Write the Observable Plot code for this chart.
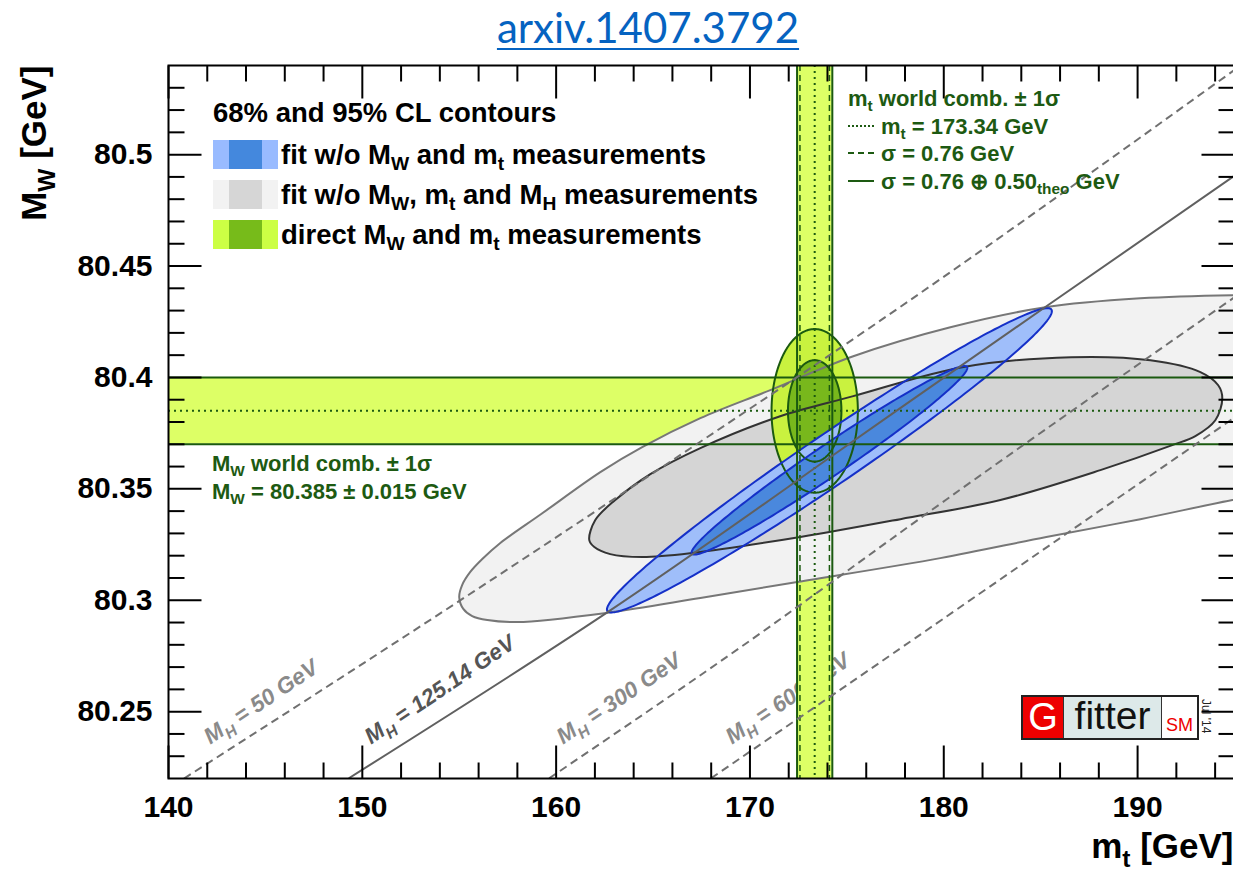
<!DOCTYPE html>
<html>
<head>
<meta charset="utf-8">
<script src="https://cdn.jsdelivr.net/npm/d3@7"></script>
<script src="https://cdn.jsdelivr.net/npm/@observablehq/plot@0.6"></script>
<style>
  html, body { margin: 0; padding: 0; background: #fff; overflow: hidden; }
  #wrap { position: relative; width: 1233px; height: 873px; overflow: hidden; }
  #chart { position: absolute; left: 0; top: 0; width: 1236px; }
  .abs { position: absolute; white-space: nowrap; }
  .helv { font-family: 'Liberation Sans', Arial, Helvetica, sans-serif; font-weight: bold; }
  sub { font-size: 70%; vertical-align: -0.3em; line-height: 0; }
  #title { left: 648px; top: 2px; transform: translateX(-50%); font-family: Lato, 'Open Sans', sans-serif;
           font-size: 42px; line-height: 50px; color: #0563C1; text-decoration: underline; text-decoration-thickness: 2px; text-underline-offset: 5px; }
  .sw { position: absolute; width: 65px; height: 29px; }
  .note { color: #1d5a12; font-size: 22px; line-height: 22px; }
  .sample { display: inline-block; width: 26px; vertical-align: 0.3em; margin-right: 7px; border-top: 2px solid #1d5a12; }
  #logo { left: 1021px; top: 695px; width: 178px; height: 45px; box-sizing: border-box; border: 2px solid #222; display: flex;
          font-family: 'Liberation Sans', Arial, Helvetica, sans-serif; }
  #logo div { box-sizing: border-box; height: 100%; position: relative; }
</style>
</head>
<body>
<div id="wrap">
  <div id="chart"></div>
  <div id="title" class="abs">arxiv.1407.3792</div>
  <div id="overlay"></div>
</div>
<script>
// ---------------- axis ticks ----------------
const mtMajorTicks = [140, 150, 160, 170, 180, 190];
const mtMinorTicks = [142, 144, 146, 148, 152, 154, 156, 158, 162, 164, 166, 168,
                      172, 174, 176, 178, 182, 184, 186, 188, 192, 194];
const mwMajorTicks = [80.25, 80.3, 80.35, 80.4, 80.45, 80.5];
const mwMinorTicks = [80.23, 80.24, 80.26, 80.27, 80.28, 80.29, 80.31, 80.32, 80.33, 80.34,
                      80.36, 80.37, 80.38, 80.39, 80.41, 80.42, 80.43, 80.44, 80.46, 80.47,
                      80.48, 80.49, 80.51, 80.52, 80.53];

// ---------------- direct measurements (world combinations) ----------------
const mtCentral = 173.34, mtSigmaExp = 0.76, mtSigmaTheo = 0.50;
const mwCentral = 80.385, mwSigma = 0.015;

// two-dimensional 68% and 95% CL: delta chi2
const clDeltaChi2 = [2.30, 5.99];

// ---------------- fit without MW and mt (MH measured) ----------------
const fitCenter = [174.1, 80.3628];
const fitSigma = [4.69, 0.0279];
const fitRho = 0.98;

// ---------------- fit without MW, mt and MH: contour outlines [mt, MW] ----------------
const grey95 = [
  [155.00, 80.3014], [155.15, 80.3068], [155.57, 80.3127], [156.19, 80.3185], [157.12, 80.3257],
  [159.23, 80.3387], [162.28, 80.3575], [164.44, 80.3687], [167.44, 80.3817], [171.05, 80.3943],
  [175.33, 80.4095], [180.34, 80.4225], [185.24, 80.4315], [190.14, 80.4355], [194.89, 80.4369],
  [199.94, 80.4369], [205.10, 80.4257], [208.71, 80.3988], [206.13, 80.3719], [200.45, 80.3539],
  [194.89, 80.3450], [190.14, 80.3364], [185.29, 80.3284], [179.82, 80.3189], [172.44, 80.3082],
  [167.44, 80.3010], [162.59, 80.2943], [157.99, 80.2902], [156.45, 80.2911], [155.67, 80.2929],
  [155.21, 80.2961]
];
const grey68 = [
  [161.71, 80.3270], [162.02, 80.3360], [163.05, 80.3450], [164.86, 80.3566], [167.44, 80.3683],
  [171.56, 80.3826], [175.33, 80.3916], [180.95, 80.4046], [186.58, 80.4091], [190.66, 80.4077],
  [193.24, 80.4024], [194.16, 80.3965], [194.37, 80.3907], [194.01, 80.3808], [192.98, 80.3737],
  [191.79, 80.3696], [188.08, 80.3584], [182.92, 80.3450], [177.76, 80.3364], [172.60, 80.3284],
  [167.02, 80.3212], [164.44, 80.3194], [162.79, 80.3207], [161.97, 80.3239]
];

// ---------------- SM prediction for fixed Higgs masses [mt, MW] ----------------
const mh50Line  = [[140.8, 80.2200], [154.02, 80.2941], [167.05, 80.3689], [179.82, 80.4441], [195.0, 80.5380]];
const mh125Line = [[149.30, 80.2201], [162.56, 80.2941], [173.90, 80.3627], [185.24, 80.4316], [195.0, 80.4905]];
const mh300Line = [[159.64, 80.2201], [170.17, 80.2829], [180.10, 80.3450], [195.0, 80.4360]];
const mh600Line = [[167.99, 80.2201], [173.88, 80.2552], [178.51, 80.2829], [195.0, 80.3820]];
const mhLabelText = ["M_{H} = 50 GeV", "M_{H} = 125.14 GeV", "M_{H} = 300 GeV", "M_{H} = 600 GeV"];
const mhLabelMt = [142.16, 150.45, 160.36, 169.07];
const mhLabelMw = [80.2351, 80.2351, 80.2351, 80.2351];

// ---------------- texts ----------------
const legendTitle = "68% and 95% CL contours";
const legendLabels = [
  "fit w/o M_{W} and m_{t} measurements",
  "fit w/o M_{W}, m_{t} and M_{H} measurements",
  "direct M_{W} and m_{t} measurements"
];
const mtNotes = [
  "m_{t} world comb. ± 1σ",
  `m_{t} = ${mtCentral} GeV`,
  `σ = ${mtSigmaExp.toFixed(2)} GeV`,
  `σ = ${mtSigmaExp.toFixed(2)} ⊕ ${mtSigmaTheo.toFixed(2)}_{theo} GeV`
];
const mwNotes = ["M_{W} world comb. ± 1σ", `M_{W} = ${mwCentral} ± ${mwSigma} GeV`];

// ---------------- styles ----------------
const bandFill = "#ddff66";
const darkGreen = "#1b5a10";
const fills = {
  blue: ["#9fbefa", "#4a88dd"],
  grey: ["#f2f2f2", "#d5d5d5"],
  green: ["#c9f23f", "#78b81c"]
};
const swatches = [["#99bbff", "#4488dd"], ["#f2f2f2", "#d6d6d6"], ["#ccff44", "#77bb1a"]];

// Gaussian confidence ellipse outline for a given delta chi2
function ellipse([cx, cy], [sx, sy], rho, dchi2) {
  const k = Math.sqrt(dchi2), c = Math.sqrt(1 - rho * rho);
  return d3.range(0, 360, 1.5).map((deg) => {
    const t = (deg * Math.PI) / 180, u = Math.cos(t), v = Math.sin(t);
    return [cx + k * sx * u, cy + k * sy * (rho * u + c * v)];
  });
}

const mtTotal = Math.hypot(mtSigmaExp, mtSigmaTheo);
const greenEll = clDeltaChi2.map((d) => ellipse([mtCentral, mwCentral], [mtTotal, mwSigma], 0, d));
const blueEll = clDeltaChi2.map((d) => ellipse(fitCenter, fitSigma, fitRho, d));

const X = (d) => d[0], Y = (d) => d[1];
const shape = (data, fill) => Plot.line(data, {x: X, y: Y, curve: "catmull-rom-closed", fill, stroke: "none", clip: true});
const outline = (data, stroke) =>
  Plot.line(data, {x: X, y: Y, curve: "catmull-rom-closed", stroke, strokeWidth: 2, clip: true});
const ellFill = (data, fill) => Plot.line(data, {x: X, y: Y, curve: "linear-closed", fill, stroke: "none", clip: true});
const ellLine = (data, stroke) => Plot.line(data, {x: X, y: Y, curve: "linear-closed", stroke, strokeWidth: 2, clip: true});
const mhLine = (data, stroke, dash) =>
  Plot.line(data, {x: X, y: Y, curve: "natural", stroke, strokeWidth: 2, strokeDasharray: dash, strokeLinecap: "butt", clip: true});

// inward tick marks on all four sides
const tickPath = {draw(ctx, l) { ctx.moveTo(0, 0); ctx.lineTo(0, -l); }};
function ticks(values, side, length) {
  const horizontal = side === "bottom" || side === "top";
  return Plot.vector(values, {
    [horizontal ? "x" : "y"]: (d) => d,
    frameAnchor: side, anchor: "start", length, shape: tickPath,
    rotate: {bottom: 0, top: 180, left: 90, right: -90}[side],
    stroke: "black", strokeWidth: 2, strokeLinecap: "butt"
  });
}

const mhLabels = mhLabelText.map((text, i) => ({text, mt: mhLabelMt[i], mw: mhLabelMw[i]}));
const labelOpts = {x: "mt", y: "mw", text: "text", rotate: -34, textAnchor: "start", lineAnchor: "bottom",
                   fontSize: 22.5, fontWeight: "bold", fontStyle: "italic"};

const plot = Plot.plot({
  width: 1236, height: 873,
  marginTop: 65, marginRight: 2, marginBottom: 95, marginLeft: 168,
  x: {domain: [140, 195]},
  y: {domain: [80.22, 80.54]},
  style: {fontFamily: "'Liberation Sans', Arial, Helvetica, sans-serif", maxWidth: "none", background: "transparent"},
  marks: [
    // MH line labels sit underneath the bands
    Plot.text(mhLabels.filter((d, i) => i !== 1), {...labelOpts, fill: "#8a8a8a"}),
    Plot.text(mhLabels.filter((d, i) => i === 1), {...labelOpts, fill: "#555555"}),
    // world-average bands
    Plot.rect([mwCentral], {y1: (d) => d - mwSigma, y2: (d) => d + mwSigma, fill: bandFill}),
    Plot.rect([mtCentral], {x1: (d) => d - mtTotal, x2: (d) => d + mtTotal, fill: bandFill}),
    // contour fills
    shape(grey95, fills.grey[0]),
    shape(grey68, fills.grey[1]),
    ellFill(greenEll[1], fills.green[0]),
    ellFill(greenEll[0], fills.green[1]),
    ellFill(blueEll[1], fills.blue[0]),
    ellFill(blueEll[0], fills.blue[1]),
    // contour outlines
    outline(grey95, "#777777"),
    outline(grey68, "#333333"),
    ellLine(greenEll[1], darkGreen),
    ellLine(greenEll[0], darkGreen),
    ellLine(blueEll[1], "#1530c8"),
    ellLine(blueEll[0], "#1530c8"),
    // band edges and central values
    Plot.ruleY([mwCentral - mwSigma, mwCentral + mwSigma], {stroke: darkGreen, strokeWidth: 2}),
    Plot.ruleY([mwCentral], {stroke: darkGreen, strokeWidth: 2, strokeDasharray: "2,4"}),
    Plot.ruleX([mtCentral - mtTotal, mtCentral + mtTotal], {stroke: darkGreen, strokeWidth: 2}),
    Plot.ruleX([mtCentral - mtSigmaExp, mtCentral + mtSigmaExp], {stroke: darkGreen, strokeWidth: 1.5, strokeDasharray: "6,4"}),
    Plot.ruleX([mtCentral], {stroke: darkGreen, strokeWidth: 2, strokeDasharray: "2,4"}),
    // SM lines for fixed MH
    mhLine(mh50Line, "#707070", "8,5"),
    mhLine(mh300Line, "#707070", "8,5"),
    mhLine(mh600Line, "#707070", "8,5"),
    mhLine(mh125Line, "#606060", null),
    // axes
    ticks(mtMajorTicks, "bottom", 33), ticks(mtMinorTicks, "bottom", 16),
    ticks(mtMajorTicks, "top", 33), ticks(mtMinorTicks, "top", 16),
    ticks(mwMajorTicks, "left", 33), ticks(mwMinorTicks, "left", 16),
    ticks(mwMajorTicks, "right", 33), ticks(mwMinorTicks, "right", 16),
    Plot.axisX({ticks: mtMajorTicks, tickSize: 0, tickPadding: 17, tickFormat: (d) => String(d),
                fontSize: 30, fontWeight: "bold", label: null}),
    Plot.axisY({ticks: mwMajorTicks, tickSize: 0, tickPadding: 16, tickFormat: (d) => String(d),
                fontSize: 30, fontWeight: "bold", label: null}),
    Plot.text(["m_{t} [GeV]"], {text: (d) => d, frameAnchor: "bottom-right", textAnchor: "end", lineAnchor: "bottom",
                               dy: 79, dx: -1, fontSize: 35, fontWeight: "bold"}),
    Plot.text(["M_{W} [GeV]"], {text: (d) => d, frameAnchor: "top-left", textAnchor: "end", lineAnchor: "bottom",
                               rotate: -90, dx: -123, fontSize: 35, fontWeight: "bold"}),
    Plot.frame({stroke: "black", strokeWidth: 2})
  ]
});
document.getElementById("chart").append(plot);

// turn "_{...}" markup into lowered, smaller tspans
function applySubscripts(root) {
  for (const t of root.querySelectorAll("text")) {
    const s = t.textContent;
    if (!s.includes("_{")) continue;
    const fs = parseFloat(getComputedStyle(t).fontSize) || 16;
    const parts = s.split(/(_\{[^}]*\})/).filter(Boolean);
    while (t.firstChild) t.removeChild(t.firstChild);
    let lowered = false;
    for (const p of parts) {
      const ts = document.createElementNS("http://www.w3.org/2000/svg", "tspan");
      if (p.startsWith("_{")) {
        ts.textContent = p.slice(2, -1);
        ts.setAttribute("font-size", 0.7 * fs);
        ts.setAttribute("dy", 0.27 * fs);
        lowered = true;
      } else {
        ts.textContent = p;
        if (lowered) ts.setAttribute("dy", -0.27 * fs);
        lowered = false;
      }
      t.appendChild(ts);
    }
  }
}
applySubscripts(plot);

// ---------------- overlay: legend, notes, logo ----------------
const html = (s) => s.replace(/_\{([^}]*)\}/g, "<sub>$1</sub>");
const overlay = document.getElementById("overlay");
function add(tag, cls, style, content) {
  const el = document.createElement(tag);
  el.className = cls;
  el.setAttribute("style", style);
  if (content != null) el.innerHTML = content;
  overlay.append(el);
  return el;
}

// legend
add("div", "abs helv", "left:213px;top:99px;font-size:27.5px;line-height:27px;color:#000", legendTitle);
legendLabels.forEach((label, i) => {
  const top = 140 + 40 * i;
  const [light, dark] = swatches[i];
  add("div", "sw", `left:213px;top:${top}px;background:linear-gradient(to right, ${light} 0 25%, ${dark} 25% 75%, ${light} 75%)`);
  add("div", "abs helv", `left:281px;top:${top}px;font-size:27.5px;line-height:29px;color:#000`, html(label));
});

// top quark note (top right of the band)
const sampleStyles = [null, "dotted", "dashed", "solid"];
mtNotes.forEach((s, i) => {
  const top = [88, 116, 143, 171][i];
  const sample = sampleStyles[i] ? `<span class="sample" style="border-top-style:${sampleStyles[i]}"></span>` : "";
  add("div", "abs helv note", `left:848px;top:${top}px`, sample + html(s));
});
// W mass note (below the band)
mwNotes.forEach((s, i) => {
  add("div", "abs helv note", `left:212px;top:${453 + 28 * i}px`, html(s));
});

// Gfitter logo
const logo = add("div", "abs", "", null);
logo.id = "logo";
logo.innerHTML =
  '<div style="width:41px;background:#ee0000;color:#fff;font-size:38px;line-height:41px;text-align:center;border-right:1.5px solid #333">G</div>' +
  '<div style="width:98px;background:#dde9e9;color:#111;font-size:39px;line-height:38px;text-align:center;border-right:1.5px solid #333">fitter</div>' +
  '<div style="flex:1;background:#fff;color:#ee0000;font-size:18px;line-height:18px;text-align:center;padding-top:19px">SM</div>';
add("div", "abs", "left:1212px;top:699px;font-family:'Liberation Sans',Arial,sans-serif;font-size:12px;line-height:12px;transform:rotate(90deg);transform-origin:left top;color:#222", "Jul '14");
</script>
</body>
</html>
